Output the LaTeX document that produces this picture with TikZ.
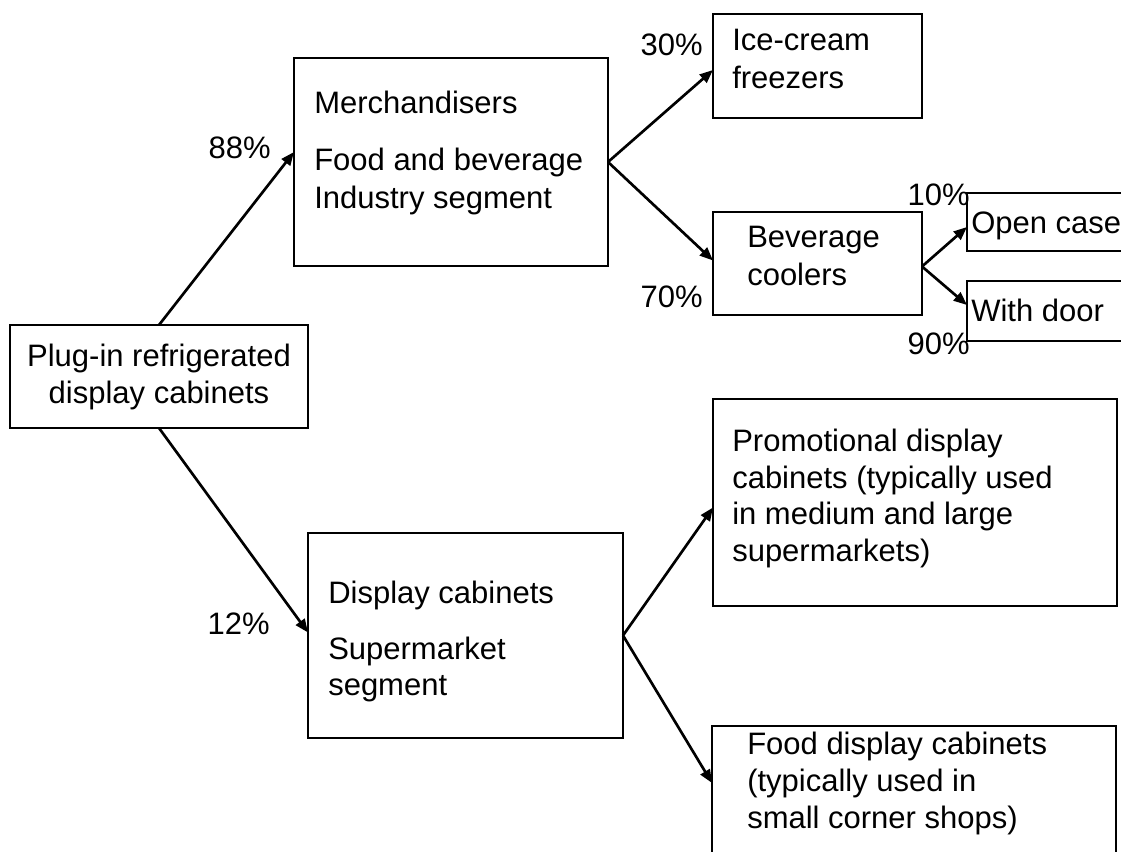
\documentclass[tikz,border=0pt]{standalone}
\usepackage{fontspec}
\setmainfont{Liberation Sans}
\usetikzlibrary{arrows.meta,calc}
\begin{document}
\begin{tikzpicture}[x=0.75pt,y=-0.75pt,
  box/.style 2 args={draw, line width=1.5pt, inner sep=0pt, outer sep=0pt,
    minimum width=#1*0.75pt, minimum height=#2*0.75pt},
  txt/.style={inner sep=0pt, font=\fontsize{23.25}{27.75}\selectfont, anchor=base west},
  pct/.style={inner sep=0pt, font=\fontsize{23.25}{27.75}\selectfont, anchor=base east},
  conn/.style={draw, line width=2pt, -{Triangle[length=10pt,width=8pt]}}]
\useasboundingbox (0,0) rectangle (1121,852);
\clip (0,0) rectangle (1121,852);

% boxes
\node[box={298}{103}] (plug) at (159,376.5) {};
\node[box={314}{208}] (merch) at (451,162) {};
\node[box={209}{104}] (ice) at (817.5,66) {};
\node[box={209}{103}] (bev) at (817.5,263.5) {};
\node[box={200}{58}] (open) at (1067,222) {};
\node[box={200}{60}] (door) at (1067,311) {};
\node[box={315}{205}] (disp) at (465.5,635.5) {};
\node[box={404}{207}] (promo) at (915,502.5) {};
\node[box={404}{174}] (food) at (914,813) {};

% texts
\node[txt, anchor=base] (plugA) at (159,366) {Plug-in refrigerated};
\node[txt, anchor=base] (plugB) at (159,403) {display cabinets};
\node[txt] (merchA) at (314,114) {Merchandisers};
\node[txt] (merchB) at (314,171) {Food and beverage};
\node[txt] (merchC) at (314,209) {Industry segment};
\node[txt] (iceA) at (732,51) {Ice-cream};
\node[txt] (iceB) at (732,89) {freezers};
\node[txt] (bevA) at (747,248) {Beverage};
\node[txt] (bevB) at (747,286) {coolers};
\node[txt] (openA) at (971,234) {Open case};
\node[txt] (doorA) at (971,321) {With door};
\node[txt] (dispA) at (328,603) {Display cabinets};
\node[txt] (dispB) at (328,659) {Supermarket};
\node[txt] (dispC) at (328,695) {segment};
\node[txt] (promoA) at (732,451) {Promotional display};
\node[txt] (promoB) at (732,488) {cabinets (typically used};
\node[txt] (promoC) at (732,524) {in medium and large};
\node[txt] (promoD) at (732,561) {supermarkets)};
\node[txt] (foodA) at (747,754) {Food display cabinets};
\node[txt] (foodB) at (747,791) {(typically used in};
\node[txt] (foodC) at (747,828) {small corner shops)};

% percentages
\node[pct] (p88) at (271,159) {88\%};
\node[pct] (p12) at (270,634) {12\%};
\node[pct] (p30) at (703,56) {30\%};
\node[pct] (p70) at (703,308) {70\%};
\node[pct] (p10) at (970,206) {10\%};
\node[pct] (p90) at (970,354) {90\%};

% connectors
\path[conn] (plug.north) -- ($(merch.west)+(0,-10)$);
\path[conn] (plug.south) -- ($(disp.west)+(0,-3)$);
\path[conn] (merch.east) -- ($(ice.west)+(0,4)$);
\path[conn] (merch.east) -- ($(bev.west)+(0,-3)$);
\path[conn] ($(bev.east)+(0,3)$) -- ($(open.west)+(0,5)$);
\path[conn] ($(bev.east)+(0,3)$) -- ($(door.west)+(0,-6)$);
\path[conn] (disp.east) -- ($(promo.west)+(0,5)$);
\path[conn] (disp.east) -- ($(food.north west)+(0,57)$);
\end{tikzpicture}
\end{document}
